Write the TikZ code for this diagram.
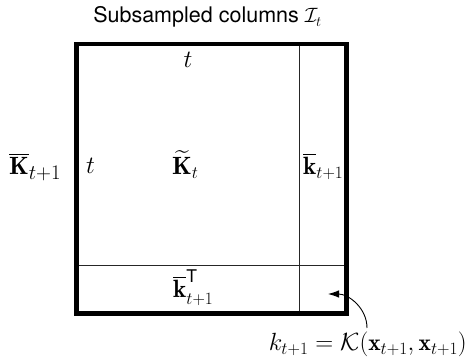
\documentclass[tikz,border=0pt]{standalone}
\usepackage{amsmath}
\usepackage{fontspec}
\setsansfont{TeX Gyre Heros}
\usetikzlibrary{arrows.meta}
\begin{document}
\begin{tikzpicture}[x=1pt,y=-1pt,
  mathlbl/.style={inner sep=0pt, font=\fontsize{25}{29}\selectfont},
  deflbl/.style={inner sep=0pt, font=\fontsize{23.5}{27}\selectfont},
  titlelbl/.style={inner sep=0pt, font=\sffamily\fontsize{21.5}{25}\selectfont},
  outerbox/.style={line width=4.5pt},
  thinline/.style={line width=0.9pt, draw=black!85},
  pointer/.style={line width=0.9pt, -{Latex[length=11pt,width=7.5pt]}}]
\useasboundingbox (0,0) rectangle (469,358);
% matrix
\draw[thinline] (299,44) -- (299,313.5);
\draw[thinline] (76.5,265) -- (346.5,265);
\draw[outerbox] (76.5,44) rectangle (346.5,313.5);
% labels
\node[titlelbl, anchor=base] (title) at (207.5,23) {Subsampled columns $\mathcal{I}_t$};
\node[mathlbl, anchor=base] (ttop) at (188,68) {$t$};
\node[mathlbl, anchor=base west] (tleft) at (86,174) {$t$};
\node[mathlbl, anchor=base west] (Kt) at (172,175) {$\widetilde{\mathbf{K}}_t$};
\node[mathlbl, anchor=base west] (Kbar) at (9,175) {$\overline{\mathbf{K}}$\raisebox{-5pt}{\fontsize{19.5}{22}\selectfont$t{+}1$}};
\node[mathlbl, anchor=base west] (kbar) at (303,175) {$\overline{\mathbf{k}}_{t+1}$};
\node[mathlbl, anchor=base west] (kbarT) at (173,298) {$\overline{\mathbf{k}}_{t+1}^{\mathsf{T}}$};
\node[deflbl, anchor=base east] (kdef) at (467,351) {$k_{t+1} = \mathcal{K}(\mathbf{x}_{t+1}, \mathbf{x}_{t+1})$};
% pointer
\coordinate (kstart) at (367,328);
\coordinate (ktip) at (328,294);
\draw[pointer] (kstart) to[out=90,in=0] (ktip);
\end{tikzpicture}
\end{document}
